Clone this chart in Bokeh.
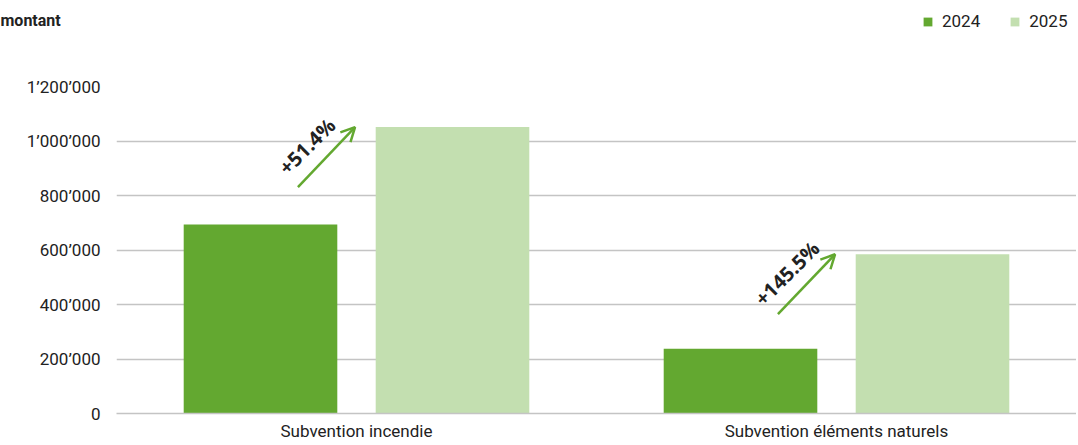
from bokeh.plotting import figure
from bokeh.layouts import column
from bokeh.models import (ColumnDataSource, FactorRange, Range1d, FixedTicker, Legend, LegendItem,
                          Arrow, OpenHead)
from bokeh.transform import dodge
from bokeh.core.properties import value
from bokeh.embed import file_html
from bokeh.resources import INLINE

categories = ["Subvention incendie", "Subvention éléments naturels"]
series_names = ["2024", "2025"]
values_2024 = [694000, 238000]
values_2025 = [1051000, 584300]
change_labels = ["+51.4%", "+145.5%"]
y_ticks = [0, 200000, 400000, 600000, 800000, 1000000, 1200000]
y_tick_labels = ["0", "200’000", "400’000", "600’000", "800’000", "1’000’000", "1’200’000"]
y_axis_title = "montant"

C24 = "#63a830"
C25 = "#c3dfb0"
GRID = "#c4c4c4"
TXT = "#222222"
FONT = "Roboto"

W, H = 1076, 443
HEADER_H = 40
LEFT, TOP, BOTTOM_BORDER = 116, 86, 30
Y_MAX = 1200000

# ---------- header: y title + legend ----------
hdr = figure(width=W, height=HEADER_H, x_range=Range1d(0, W), y_range=Range1d(0, HEADER_H),
             output_backend="svg", toolbar_location=None, x_axis_type=None, y_axis_type=None,
             min_border=0, frame_align=False)
hdr.outline_line_color = None
hdr.grid.grid_line_color = None
hdr.text(x=[0], y=[HEADER_H - 20], text=[y_axis_title], text_font=value(FONT),
         text_font_style="bold", text_font_size="16px", text_color=TXT,
         text_baseline="middle", text_align="left")
# legend keys: one off-screen placeholder each, so the legend has something to draw
key_src = ColumnDataSource(dict(x=[-1000], top=[0]))
k24 = hdr.vbar(x="x", top="top", width=1, source=key_src, fill_color=C24, line_color=None)
k25 = hdr.vbar(x="x", top="top", width=1, source=key_src, fill_color=C25, line_color=None)
legend = Legend(items=[LegendItem(label=series_names[0], renderers=[k24]),
                       LegendItem(label=series_names[1], renderers=[k25])],
                location=(922, HEADER_H - 31), orientation="horizontal",
                glyph_width=11, glyph_height=11, label_standoff=9, spacing=29,
                padding=0, margin=0, border_line_color=None, background_fill_alpha=0,
                label_text_font=FONT, label_text_font_size="17px",
                label_text_color=TXT, label_height=20)
hdr.add_layout(legend, "center")

# ---------- main chart ----------
arrow_dy = 220000
text_dy = 70000
src = ColumnDataSource(dict(
    cat=categories, v24=values_2024, v25=values_2025, lab=change_labels,
    a_y0=[v - arrow_dy for v in values_2025],
    t_y=[v - text_dy for v in values_2025],
))

p = figure(width=W, height=H - HEADER_H, x_range=FactorRange(*categories, range_padding=0),
           y_range=Range1d(0, Y_MAX), output_backend="svg", toolbar_location=None,
           min_border_left=LEFT, min_border_right=0, min_border_top=TOP - HEADER_H,
           min_border_bottom=BOTTOM_BORDER, frame_align=False)
p.outline_line_color = None

p.vbar(x=dodge("cat", -0.2, range=p.x_range), top="v24", width=0.32, source=src,
       fill_color=C24, line_color=None)
p.vbar(x=dodge("cat", 0.2, range=p.x_range), top="v25", width=0.32, source=src,
       fill_color=C25, line_color=None)

p.yaxis.ticker = FixedTicker(ticks=y_ticks)
p.yaxis.major_label_overrides = {t: l for t, l in zip(y_ticks, y_tick_labels)}
p.yaxis.axis_line_color = None
p.yaxis.major_tick_line_color = None
p.yaxis.major_tick_out = 0
p.yaxis.major_tick_in = 0
p.yaxis.minor_tick_line_color = None
p.yaxis.major_label_standoff = 16
p.yaxis.major_label_text_font = FONT
p.yaxis.major_label_text_font_size = "17px"
p.yaxis.major_label_text_color = TXT

p.xaxis.axis_line_color = GRID
p.xaxis.axis_line_width = 1.5
p.xaxis.major_tick_line_color = None
p.xaxis.major_tick_out = 0
p.xaxis.major_tick_in = 0
p.xaxis.minor_tick_line_color = None
p.xaxis.major_label_standoff = 7
p.xaxis.major_label_text_font = FONT
p.xaxis.major_label_text_font_size = "17px"
p.xaxis.major_label_text_color = TXT

p.xgrid.grid_line_color = None
p.ygrid.grid_line_color = GRID
p.ygrid.grid_line_width = 1.5
p.ygrid.ticker = FixedTicker(ticks=y_ticks)

p.add_layout(Arrow(x_start=dodge("cat", -0.122, range=p.x_range), y_start="a_y0",
                   x_end=dodge("cat", -0.003, range=p.x_range), y_end="v25", source=src,
                   line_color=C24, line_width=2.5,
                   end=OpenHead(size=14, line_color=C24, line_width=2.5)))
p.text(x=dodge("cat", -0.103, range=p.x_range), y="t_y", text="lab", source=src,
       angle=45, angle_units="deg", text_align="center", text_baseline="middle",
       text_font=value("Open Sans"), text_font_style="bold", text_font_size="20px",
       text_color=TXT)

layout = column(hdr, p, spacing=0)
open("out.html", "w").write(file_html(layout, INLINE))
